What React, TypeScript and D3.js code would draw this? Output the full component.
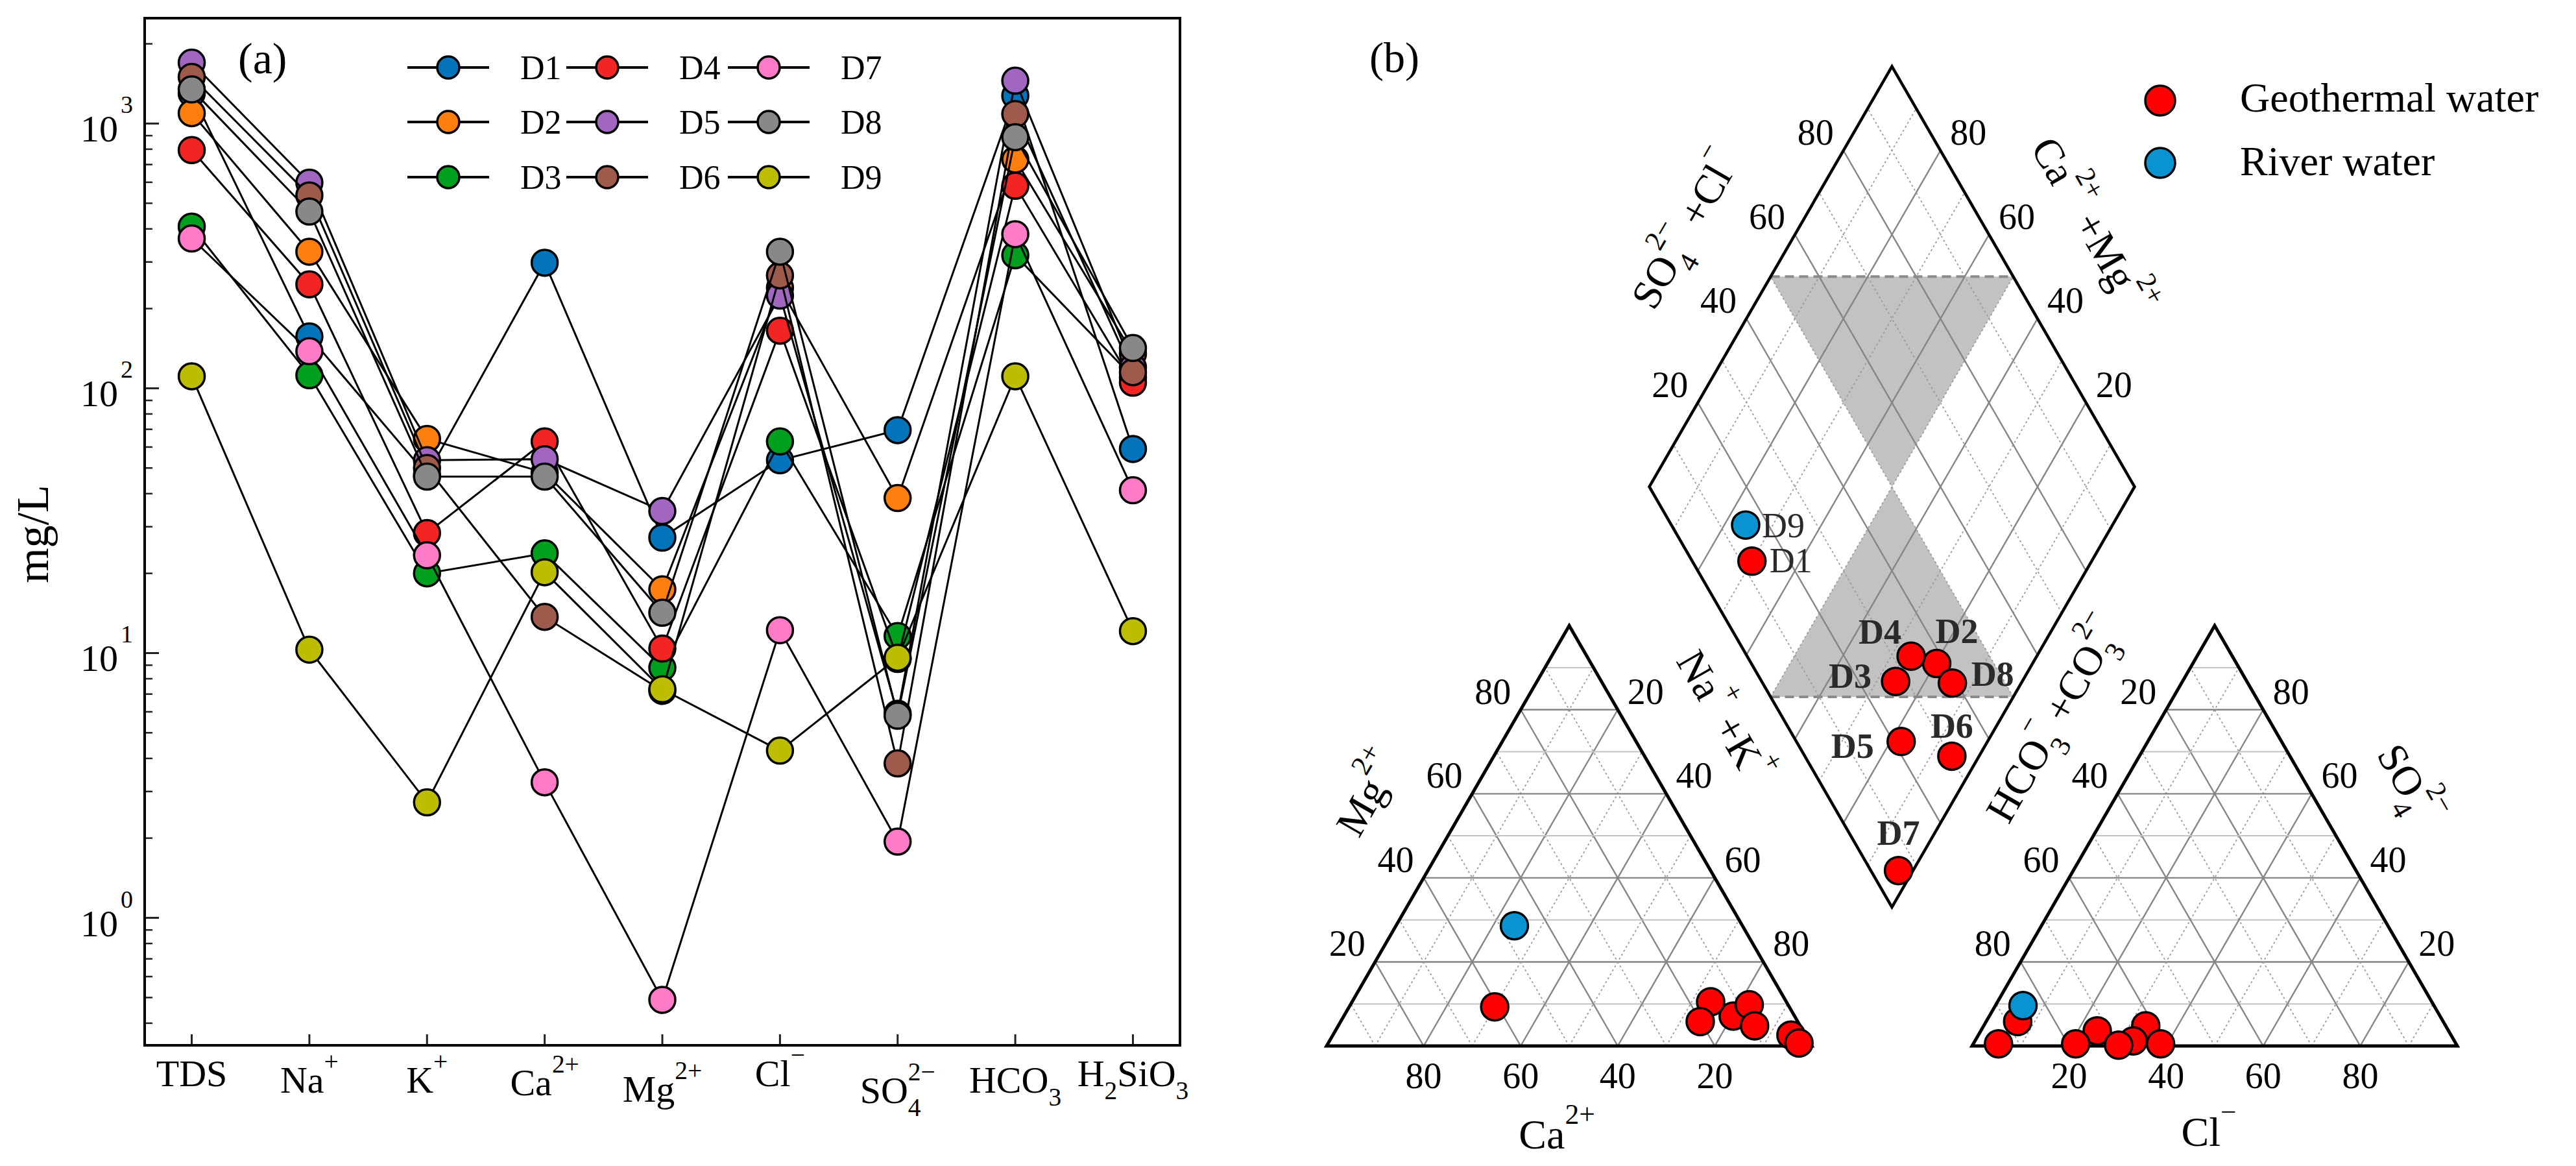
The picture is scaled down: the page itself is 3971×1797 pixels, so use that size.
import React from "react";
import * as d3 from "d3";

// ---------------- Panel (a) data ----------------
const categories = ["TDS", "Na+", "K+", "Ca2+", "Mg2+", "Cl-", "SO42-", "HCO3", "H2SiO3"];
const sampleNames = ["D1", "D2", "D3", "D4", "D5", "D6", "D7", "D8", "D9"];
const D1 = [1300, 157, 47, 298, 27.3, 53.5, 69.5, 1274, 59];
const D2 = [1094, 328, 64.4, 48, 17.4, 240, 38.5, 731, 135];
const D3 = [408, 112, 20.0, 23.8, 8.8, 63, 11.6, 318, 110];
const D4 = [794, 247, 28.4, 63, 10.4, 165, 9.5, 582, 105];
const D5 = [1698, 598, 53.5, 54, 34.4, 224, 5.9, 1452, 120];
const D6 = [1500, 535, 50, 13.7, 7.2, 267, 3.83, 1086, 115];
const D7 = [368, 138, 23.4, 3.25, 0.49, 12.2, 1.94, 382, 41.2];
const D8 = [1345, 465, 46.4, 46.4, 14.2, 328, 5.8, 888, 142];
const D9 = [111, 10.3, 2.73, 20.2, 7.3, 4.28, 9.6, 111, 12.1];
const seriesValues = [D1, D2, D3, D4, D5, D6, D7, D8, D9];
const yTickValues = [1, 10, 100, 1000];
const yTickExponents = ["0", "1", "2", "3"];

// ---------------- Panel (b) data (meq %) ----------------
const piperSamples = ["D1", "D2", "D3", "D4", "D5", "D6", "D7", "D8", "D9"];
const piperType = ["geo", "geo", "geo", "geo", "geo", "geo", "geo", "geo", "river"];
const cationCa = [60.7, 12.65, 15.6, 20.1, 8.0, 3.0, 2.3, 9.4, 47.0];
const cationMg = [9.3, 7.1, 10.5, 5.8, 9.8, 2.6, 0.7, 4.8, 28.6];
const cationNaK = [30.0, 80.25, 73.9, 74.1, 82.2, 94.4, 97.0, 85.8, 24.4];
const anionHCO3 = [87.7, 61.8, 72.4, 66.2, 78.4, 69.7, 94.3, 60.9, 84.7];
const anionSO4 = [5.8, 4.8, 3.6, 1.2, 0.5, 0.2, 0.5, 0.5, 9.6];
const anionCl = [6.5, 33.4, 24.0, 32.6, 21.1, 30.1, 5.2, 38.6, 5.7];
const piperTicks = [20, 40, 60, 80];
const piperLegend = ["Geothermal water", "River water"];

// ---------------- styles ----------------
const FONT = "'Liberation Serif', 'Times New Roman', Times, serif";
const seriesColors = ["#0474BA", "#FF7F0E", "#00A01E", "#F22424", "#A066C0", "#9E5A4A", "#FF7BC8", "#888888", "#BDBD00"];
const typeColor: Record<string, string> = { geo: "#FF0000", river: "#0A93D1" };

type Seg = { t: string; k?: "sup" | "sub"; dx?: number };
function Rich({ segs, fs }: { segs: Seg[]; fs: number }) {
  let cur = 0;
  return (
    <>
      {segs.map((s, i) => {
        const target = s.k === "sup" ? -0.6 * fs : s.k === "sub" ? 0.35 * fs : 0;
        const dy = target - cur;
        cur = target;
        return (
          <tspan key={i} dy={dy} dx={s.dx ? s.dx * fs : undefined} fontSize={s.k ? 0.68 * fs : fs}>
            {s.t}
          </tspan>
        );
      })}
    </>
  );
}

const catSegs: Record<string, Seg[]> = {
  TDS: [{ t: "TDS" }],
  "Na+": [{ t: "Na" }, { t: "+", k: "sup" }],
  "K+": [{ t: "K" }, { t: "+", k: "sup" }],
  "Ca2+": [{ t: "Ca" }, { t: "2+", k: "sup" }],
  "Mg2+": [{ t: "Mg" }, { t: "2+", k: "sup" }],
  "Cl-": [{ t: "Cl" }, { t: "−", k: "sup" }],
  "SO42-": [{ t: "SO" }, { t: "4", k: "sub" }, { t: "2−", k: "sup", dx: -0.34 }],
  HCO3: [{ t: "HCO" }, { t: "3", k: "sub" }],
  H2SiO3: [{ t: "H" }, { t: "2", k: "sub" }, { t: "SiO" }, { t: "3", k: "sub" }],
};
const catDy = [0, 10, 10, 14, 24, 0, 26, 10, 0];

// panel (a) layout
const PL = 223, PR = 1819, PT = 28, PB = 1611;

// panel (b) layout
type P = [number, number];
const S = 748;
const H = (S * Math.sqrt(3)) / 2;
const catO: P = [2045, 1612];
const anO: P = [3040, 1612];
const dB: P = [2916.5, 1398];
const lerp = (a: P, b: P, t: number): P => [a[0] + (b[0] - a[0]) * t, a[1] + (b[1] - a[1]) * t];
const triV = (o: P) => ({ A: [o[0], o[1]] as P, B: [o[0] + S, o[1]] as P, C: [o[0] + S / 2, o[1] - H] as P });
const dL: P = [dB[0] - S / 2, dB[1] - H];
const dR: P = [dB[0] + S / 2, dB[1] - H];
const dT: P = [dB[0], dB[1] - 2 * H];
const dia = (u: number, v: number): P => [
  dB[0] + u * (dL[0] - dB[0]) + v * (dR[0] - dB[0]),
  dB[1] + u * (dL[1] - dB[1]) + v * (dR[1] - dB[1]),
];

const labelOffsets: Record<string, { dx: number; dy: number; bold: boolean }> = {
  D9: { dx: 58, dy: 19, bold: false },
  D1: { dx: 60, dy: 17, bold: false },
  D4: { dx: -48, dy: -19, bold: true },
  D2: { dx: 31, dy: -32, bold: true },
  D3: { dx: -70, dy: 10, bold: true },
  D8: { dx: 62, dy: 4, bold: true },
  D5: { dx: -75, dy: 25, bold: true },
  D6: { dx: 0, dy: -28, bold: true },
  D7: { dx: 0, dy: -40, bold: true },
};

const pathOf = (pts: P[], closed = false) => {
  const l = d3.line<P>().x((p) => p[0]).y((p) => p[1]);
  return l(pts)! + (closed ? "Z" : "");
};

function GridLine({ a, b, major, horiz }: { a: P; b: P; major: boolean; horiz?: boolean }) {
  if (major)
    return <line x1={a[0]} y1={a[1]} x2={b[0]} y2={b[1]} stroke="#858585" strokeWidth={2.4} />;
  if (horiz)
    return <line x1={a[0]} y1={a[1]} x2={b[0]} y2={b[1]} stroke="#c4c4c4" strokeWidth={2} />;
  return <line x1={a[0]} y1={a[1]} x2={b[0]} y2={b[1]} stroke="#9a9a9a" strokeWidth={1.8} strokeDasharray="3 4" />;
}

function TriGrid({ o }: { o: P }) {
  const { A, B, C } = triV(o);
  const els: JSX.Element[] = [];
  for (let i = 1; i < 10; i++) {
    const t = i / 10;
    const major = i % 2 === 0;
    els.push(<GridLine key={"h" + i} a={lerp(A, C, t)} b={lerp(B, C, t)} major={major} horiz />);
    els.push(<GridLine key={"r" + i} a={lerp(A, B, t)} b={lerp(C, B, t)} major={major} />);
    els.push(<GridLine key={"l" + i} a={lerp(B, A, t)} b={lerp(C, A, t)} major={major} />);
  }
  return (
    <g>
      {els}
      <path d={pathOf([A, B, C], true)} fill="none" stroke="#000" strokeWidth={5} strokeLinejoin="miter" />
    </g>
  );
}

function TickLabel({ p, off, v }: { p: P; off: P; v: number }) {
  return (
    <text x={p[0] + off[0]} y={p[1] + off[1] + 19} fontSize={56} textAnchor="middle">
      {v}
    </text>
  );
}

function RotTitle({ cx, cy, a, segs, fs = 64 }: { cx: number; cy: number; a: number; segs: Seg[]; fs?: number }) {
  return (
    <text transform={`translate(${cx},${cy}) rotate(${a})`} y={0.3 * fs} fontSize={fs} textAnchor="middle">
      <Rich segs={segs} fs={fs} />
    </text>
  );
}

export default function App() {
  const x = d3.scalePoint<string>().domain(categories).range([PL, PR]).padding(0.4);
  const y = d3.scaleLog().domain([0.33, 2500]).range([PB, PT]);
  const line = d3
    .line<number>()
    .x((_, i) => x(categories[i])!)
    .y((v) => y(v));
  const minor: number[] = [];
  for (let k = -1; k <= 3; k++)
    for (let m = 2; m <= 9; m++) {
      const v = m * Math.pow(10, k);
      if (v > 0.33 && v < 2500) minor.push(v);
    }

  const pct = d3.scaleLinear().domain([0, 100]).range([0, 1]);
  const cat = triV(catO);
  const an = triV(anO);
  const catPt = (i: number): P => [catO[0] + S * (pct(cationNaK[i]) + pct(cationMg[i]) / 2), catO[1] - H * pct(cationMg[i])];
  const anPt = (i: number): P => [anO[0] + S * (pct(anionCl[i]) + pct(anionSO4[i]) / 2), anO[1] - H * pct(anionSO4[i])];
  const diaPt = (i: number): P => dia(1 - pct(cationNaK[i]), pct(anionSO4[i]) + pct(anionCl[i]));

  const legendCols = [691, 936, 1185];
  const legendRows = [104, 188, 273];

  const diaGrid: JSX.Element[] = [];
  for (let i = 1; i < 10; i++) {
    const t = i / 10;
    const major = i % 2 === 0;
    diaGrid.push(<GridLine key={"u" + i} a={dia(t, 0)} b={dia(t, 1)} major={major} />);
    diaGrid.push(<GridLine key={"v" + i} a={dia(0, t)} b={dia(1, t)} major={major} />);
  }

  return (
    <svg
      width={3971}
      height={1797}
      style={{ position: "absolute", left: 0, top: 0, background: "#fff", fontFamily: FONT }}
      fontFamily={FONT}
    >
      <style>{`text, tspan { font-family: "Liberation Serif", "Times New Roman", Times, serif; }`}</style>
      <rect x={0} y={0} width={3971} height={1797} fill="#fff" />

      {/* ---------- Panel (a) ---------- */}
      <g>
        {yTickValues.map((v) => (
          <line key={"M" + v} x1={PL} x2={PL + 22} y1={y(v)} y2={y(v)} stroke="#222" strokeWidth={3} />
        ))}
        {minor.map((v) => (
          <line key={"m" + v} x1={PL} x2={PL + 12} y1={y(v)} y2={y(v)} stroke="#222" strokeWidth={2.5} />
        ))}
        {yTickValues.map((v, i) => (
          <text key={"t" + v} x={205} y={y(v) + 28} textAnchor="end" fontSize={58}>
            <tspan>10</tspan>
            <tspan fontSize={38} dy={-44} dx={4}>
              {yTickExponents[i]}
            </tspan>
          </text>
        ))}
        {categories.map((c) => (
          <line key={"xt" + c} x1={x(c)} x2={x(c)} y1={PB} y2={PB - 17} stroke="#222" strokeWidth={3} />
        ))}
        {categories.map((c, i) => (
          <text key={"xl" + c} x={x(c)} y={1674 + catDy[i]} textAnchor="middle" fontSize={58}>
            <Rich segs={catSegs[c]} fs={58} />
          </text>
        ))}
        <text transform="translate(74,823) rotate(-90)" textAnchor="middle" fontSize={70}>
          mg/L
        </text>
        <text x={367} y={113} fontSize={68}>
          (a)
        </text>

        {seriesValues.map((vals, si) => (
          <g key={"s" + si}>
            <path d={line(vals)!} fill="none" stroke="#000" strokeWidth={3} />
            {vals.map((v, i) => (
              <circle
                key={i}
                cx={x(categories[i])}
                cy={y(v)}
                r={20}
                fill={seriesColors[si]}
                stroke="#000"
                strokeWidth={3.5}
              />
            ))}
          </g>
        ))}

        {sampleNames.map((n, i) => {
          const cx = legendCols[Math.floor(i / 3)];
          const cy = legendRows[i % 3];
          return (
            <g key={"lg" + n}>
              <line x1={cx - 63} x2={cx + 63} y1={cy} y2={cy} stroke="#000" strokeWidth={4} />
              <circle cx={cx} cy={cy} r={17} fill={seriesColors[i]} stroke="#000" strokeWidth={3.5} />
              <text x={cx + 111} y={cy + 18} fontSize={52}>
                {n}
              </text>
            </g>
          );
        })}

        <rect x={PL} y={PT} width={PR - PL} height={PB - PT} fill="none" stroke="#000" strokeWidth={4} />
      </g>

      {/* ---------- Panel (b) ---------- */}
      <g>
        <text x={2111} y={111} fontSize={66}>
          (b)
        </text>

        <path d={pathOf([dia(1, 0.5), dia(0.5, 1), dia(0.5, 0.5)], true)} fill="#c2c2c2" />
        <path d={pathOf([dia(0.5, 0.5), dia(0.5, 0), dia(0, 0.5)], true)} fill="#c2c2c2" />
        {diaGrid}
        <line x1={dia(1, 0.5)[0]} y1={dia(1, 0.5)[1]} x2={dia(0.5, 1)[0]} y2={dia(0.5, 1)[1]} stroke="#8a8a8a" strokeWidth={4} strokeDasharray="14 8" />
        <line x1={dia(0.5, 0)[0]} y1={dia(0.5, 0)[1]} x2={dia(0, 0.5)[0]} y2={dia(0, 0.5)[1]} stroke="#8a8a8a" strokeWidth={4} strokeDasharray="14 8" />
        <path d={pathOf([dB, dL, dT, dR], true)} fill="none" stroke="#000" strokeWidth={4.5} />

        <TriGrid o={catO} />
        <TriGrid o={anO} />

        {piperTicks.map((v) => (
          <g key={"pt" + v}>
            <TickLabel p={lerp(cat.A, cat.C, pct(v))} off={[-43, -28]} v={v} />
            <TickLabel p={lerp(cat.C, cat.B, pct(v))} off={[43, -28]} v={v} />
            <TickLabel p={lerp(cat.B, cat.A, pct(v))} off={[0, 46]} v={v} />
            <TickLabel p={lerp(an.C, an.A, pct(v))} off={[-43, -28]} v={v} />
            <TickLabel p={lerp(an.B, an.C, pct(v))} off={[43, -28]} v={v} />
            <TickLabel p={lerp(an.A, an.B, pct(v))} off={[0, 46]} v={v} />
            <TickLabel p={lerp(dL, dT, pct(v))} off={[-43, -28]} v={v} />
            <TickLabel p={lerp(dR, dT, pct(v))} off={[43, -28]} v={v} />
          </g>
        ))}

        <RotTitle cx={2112} cy={1225} a={-60} segs={[{ t: "Mg" }, { t: "2+", k: "sup" }]} />
        <RotTitle cx={2655} cy={1105} a={60} segs={[{ t: "Na" }, { t: "+", k: "sup" }, { t: " +K" }, { t: "+", k: "sup" }]} />
        <text x={2400} y={1770} fontSize={64} textAnchor="middle">
          <Rich segs={[{ t: "Ca" }, { t: "2+", k: "sup" }]} fs={64} />
        </text>
        <RotTitle
          cx={3168}
          cy={1110}
          a={-60}
          segs={[{ t: "HCO" }, { t: "3", k: "sub" }, { t: "−", k: "sup", dx: -0.3 }, { t: " +CO" }, { t: "3", k: "sub" }, { t: "2−", k: "sup", dx: -0.3 }]}
        />
        <RotTitle cx={3712} cy={1210} a={60} segs={[{ t: "SO" }, { t: "4", k: "sub" }, { t: "2−", k: "sup", dx: -0.3 }]} />
        <text x={3405} y={1766} fontSize={64} textAnchor="middle">
          <Rich segs={[{ t: "Cl" }, { t: "−", k: "sup" }]} fs={64} />
        </text>
        <RotTitle
          cx={2600}
          cy={355}
          a={-60}
          segs={[{ t: "SO" }, { t: "4", k: "sub" }, { t: "2−", k: "sup", dx: -0.3 }, { t: " +Cl" }, { t: "−", k: "sup" }]}
        />
        <RotTitle
          cx={3222}
          cy={350}
          a={60}
          segs={[{ t: "Ca" }, { t: "2+", k: "sup" }, { t: " +Mg" }, { t: "2+", k: "sup" }]}
        />

        {piperSamples.map((n, i) => {
          const c = catPt(i);
          const a = anPt(i);
          const d = diaPt(i);
          const lo = labelOffsets[n];
          return (
            <g key={"pp" + n}>
              <circle cx={c[0]} cy={c[1]} r={21} fill={typeColor[piperType[i]]} stroke="#000" strokeWidth={3.5} />
              <circle cx={a[0]} cy={a[1]} r={21} fill={typeColor[piperType[i]]} stroke="#000" strokeWidth={3.5} />
              <circle cx={d[0]} cy={d[1]} r={21} fill={typeColor[piperType[i]]} stroke="#000" strokeWidth={3.5} />
              <text
                x={d[0] + lo.dx}
                y={d[1] + lo.dy}
                fontSize={54}
                fontWeight={lo.bold ? "bold" : "normal"}
                fill="#2a2a2a"
                textAnchor="middle"
              >
                {n}
              </text>
            </g>
          );
        })}

        {piperLegend.map((l, i) => (
          <g key={"pl" + l}>
            <circle cx={3330} cy={155 + i * 96} r={23} fill={typeColor[i === 0 ? "geo" : "river"]} stroke="#000" strokeWidth={3.5} />
            <text x={3453} y={172 + i * 98} fontSize={64}>
              {l}
            </text>
          </g>
        ))}
      </g>
    </svg>
  );
}
